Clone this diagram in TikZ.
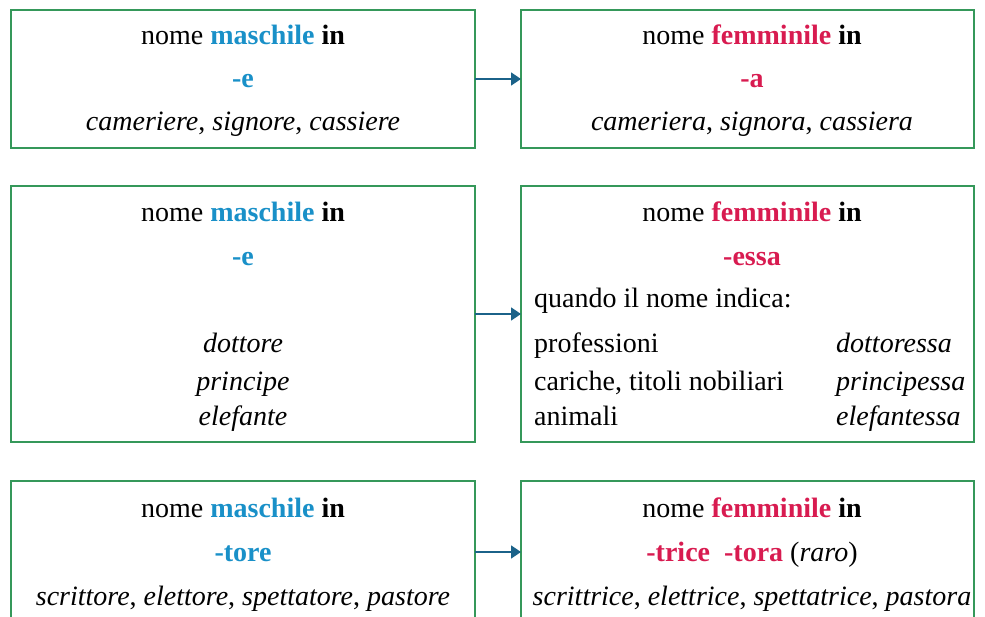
\documentclass[tikz,border=0pt]{standalone}
\usepackage{fontspec}
\setmainfont{Liberation Serif}
\usepackage{tikz}
\usetikzlibrary{positioning}
\usetikzlibrary{arrows.meta}

\definecolor{boxgreen}{HTML}{35985A}
\definecolor{mascblue}{HTML}{1990C8}
\definecolor{femred}{HTML}{D81B50}
\definecolor{linkblue}{HTML}{1B6289}

\begin{document}
\begin{tikzpicture}[
x=1pt, y=1pt,
box/.style={rectangle, draw=boxgreen, line width=2.4pt, minimum width=464pt, inner sep=0pt, outer sep=0pt},
fbox/.style={box, minimum width=453pt},
txt/.style={inner sep=0pt, anchor=base, font=\fontsize{28}{34}\selectfont},
ltxt/.style={txt, anchor=base west},
link/.style={draw=linkblue, line width=1.6pt, -{Triangle[length=10pt, width=13pt]}},
]
\clip (0,0) rectangle (985,-617);

% prima riga
\node[box, minimum height=138pt, anchor=north west] (mascA) at (11,-10) {};
\node[fbox, minimum height=138pt] (femA) [right=46pt of mascA] {};

\node[txt] (mA1) at (243,-45) {nome \textcolor{mascblue}{\textbf{maschile}} \textbf{in}};
\node[txt] (mA2) at (243,-88) {\textcolor{mascblue}{\textbf{-e}}};
\node[txt] (mA3) at (243,-131) {\textit{cameriere}, \textit{signore}, \textit{cassiere}};

\node[txt] (fA1) at (752,-45) {nome \textcolor{femred}{\textbf{femminile}} \textbf{in}};
\node[txt] (fA2) at (752,-88) {\textcolor{femred}{\textbf{-a}}};
\node[txt] (fA3) at (752,-131) {\textit{cameriera}, \textit{signora}, \textit{cassiera}};

% seconda riga
\node[box, minimum height=256pt] (mascB) [below=38pt of mascA] {};
\node[fbox, minimum height=256pt] (femB) [right=46pt of mascB] {};

\node[txt] (mB1) at (243,-222) {nome \textcolor{mascblue}{\textbf{maschile}} \textbf{in}};
\node[txt] (mB2) at (243,-266) {\textcolor{mascblue}{\textbf{-e}}};
\node[txt] (mB3) at (243,-353) {\textit{dottore}};
\node[txt] (mB4) at (243,-390) {\textit{principe}};
\node[txt] (mB5) at (243,-425) {\textit{elefante}};

\node[txt] (fB1) at (752,-222) {nome \textcolor{femred}{\textbf{femminile}} \textbf{in}};
\node[txt] (fB2) at (752,-266) {\textcolor{femred}{\textbf{-essa}}};
\node[ltxt] (fB3) at (534,-308) {quando il nome indica:};
\node[ltxt] (fB4) at (534,-353) {professioni};
\node[ltxt] (fB5) at (534,-390) {cariche, titoli nobiliari};
\node[ltxt] (fB6) at (534,-425) {animali};
\node[ltxt] (fB7) at (836,-353) {\textit{dottoressa}};
\node[ltxt] (fB8) at (836,-390) {\textit{principessa}};
\node[ltxt] (fB9) at (836,-425) {\textit{elefantessa}};

% terza riga
\node[box, minimum height=142pt] (mascC) [below=39pt of mascB] {};
\node[fbox, minimum height=142pt] (femC) [right=46pt of mascC] {};

\node[txt] (mC1) at (243,-517) {nome \textcolor{mascblue}{\textbf{maschile}} \textbf{in}};
\node[txt] (mC2) at (243,-561) {\textcolor{mascblue}{\textbf{-tore}}};
\node[txt] (mC3) at (243,-605) {\textit{scrittore}, \textit{elettore}, \textit{spettatore}, \textit{pastore}};

\node[txt] (fC1) at (752,-517) {nome \textcolor{femred}{\textbf{femminile}} \textbf{in}};
\node[txt] (fC2) at (752,-561) {\textcolor{femred}{\textbf{-trice}\ \ \textbf{-tora}} (\textit{raro})};
\node[txt] (fC3) at (752,-605) {\textit{scrittrice}, \textit{elettrice}, \textit{spettatrice}, \textit{pastora}};

\draw[link] (mascA.east) -- (femA.west);
\draw[link] (mascB.east) -- (femB.west);
\draw[link] (mascC.east) -- (femC.west);
\end{tikzpicture}
\end{document}
